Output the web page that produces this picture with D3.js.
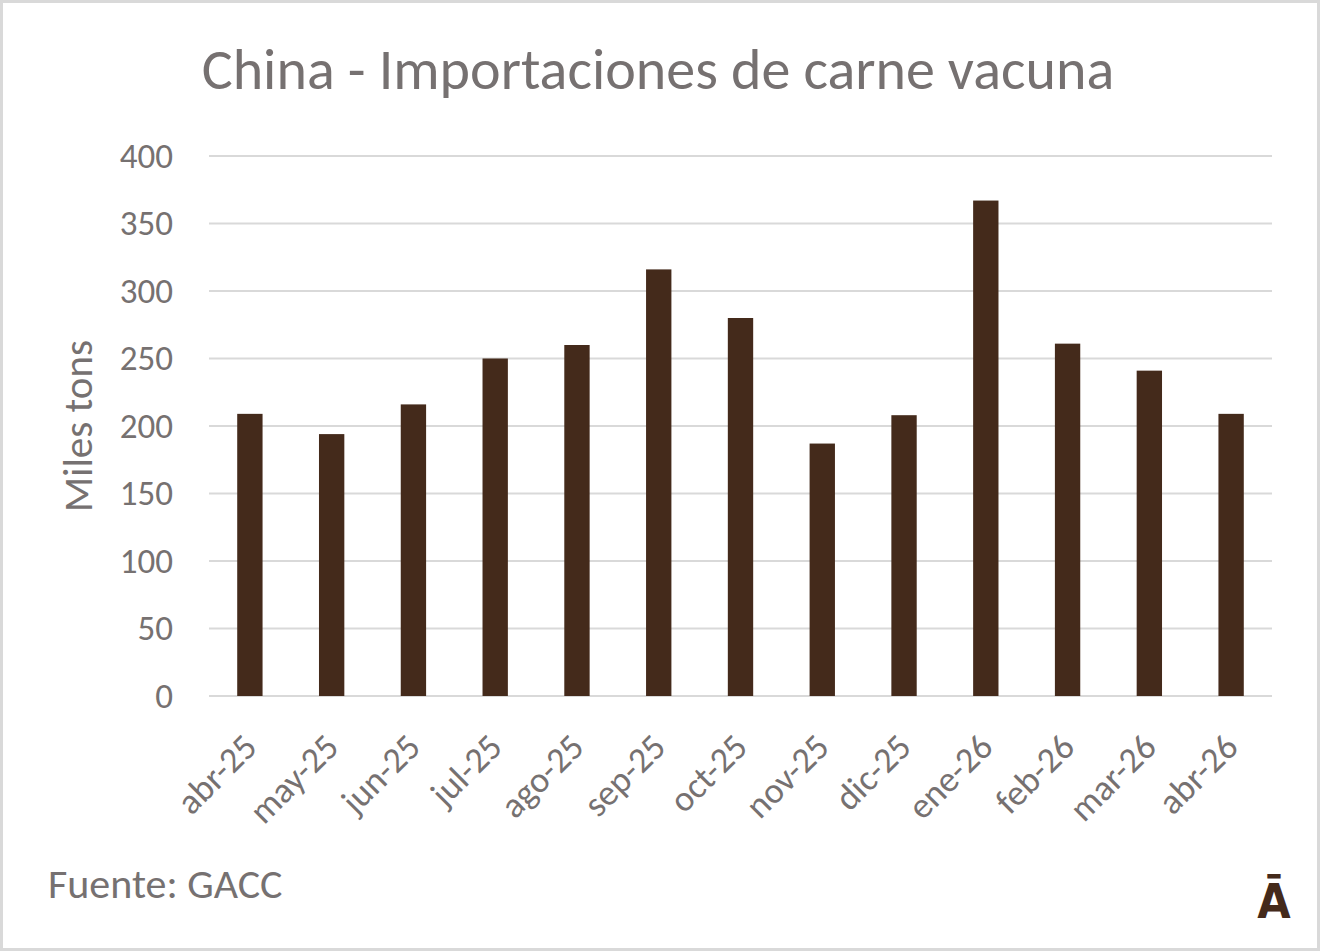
<!DOCTYPE html>
<html>
<head>
<meta charset="utf-8">
<script src="https://cdn.jsdelivr.net/npm/d3@7"></script>
<style>
  html, body { margin: 0; padding: 0; background: #fff; }
  svg text { font-family: Carlito, Lato, "Open Sans", sans-serif; fill: #767171; }
</style>
</head>
<body>
<svg id="chart" width="1320" height="951"></svg>
<script>
const months = ["abr-25", "may-25", "jun-25", "jul-25", "ago-25", "sep-25", "oct-25",
  "nov-25", "dic-25", "ene-26", "feb-26", "mar-26", "abr-26"];
const imports = [209, 194, 216, 250, 260, 316, 280, 187, 208, 367, 261, 241, 209];
const yTicks = [0, 50, 100, 150, 200, 250, 300, 350, 400];

const title = "China - Importaciones de carne vacuna";
const yLabel = "Miles tons";
const source = "Fuente: GACC";

const data = months.map((m, i) => ({ month: m, value: imports[i] }));

const width = 1320, height = 951;
const margin = { top: 156, right: 48, bottom: 255, left: 209 };

const svg = d3.select("#chart");

// outer frame
svg.append("rect")
  .attr("x", 1.5).attr("y", 1.5)
  .attr("width", width - 3).attr("height", height - 3)
  .attr("fill", "#fff").attr("stroke", "#d9d9d9").attr("stroke-width", 3);

const x = d3.scaleBand()
  .domain(months)
  .range([margin.left, width - margin.right])
  .paddingInner(0.69)
  .paddingOuter(0.345);

const y = d3.scaleLinear()
  .domain([0, 400])
  .range([height - margin.bottom, margin.top]);

// gridlines
svg.append("g")
  .selectAll("line")
  .data(yTicks)
  .join("line")
  .attr("x1", margin.left).attr("x2", width - margin.right)
  .attr("y1", d => y(d)).attr("y2", d => y(d))
  .attr("stroke", "#d9d9d9").attr("stroke-width", 2);

// bars
svg.append("g")
  .selectAll("rect")
  .data(data)
  .join("rect")
  .attr("x", d => x(d.month))
  .attr("y", d => y(d.value))
  .attr("width", x.bandwidth())
  .attr("height", d => y(0) - y(d.value))
  .attr("fill", "#442a1b");

// y axis labels
const yAxis = svg.append("g")
  .attr("transform", `translate(${margin.left},0)`)
  .call(d3.axisLeft(y).tickValues(yTicks).tickSize(0).tickPadding(36));
yAxis.select(".domain").remove();
yAxis.selectAll("text")
  .style("font-size", "35px")
  .attr("fill", "#767171");

// x axis labels
const xAxis = svg.append("g")
  .attr("transform", `translate(0,${y(0)})`)
  .call(d3.axisBottom(x).tickSize(0).tickPadding(0));
xAxis.select(".domain").remove();
xAxis.selectAll("text")
  .style("font-size", "36px")
  .attr("fill", "#767171")
  .attr("text-anchor", "end")
  .attr("dy", null)
  .attr("transform", "translate(9,53) rotate(-45)");

// title
svg.append("text")
  .attr("x", 658).attr("y", 89)
  .attr("text-anchor", "middle")
  .style("font-size", "58px")
  .text(title);

// y axis title
svg.append("text")
  .attr("transform", `translate(92,${(y(0) + y(400)) / 2}) rotate(-90)`)
  .attr("text-anchor", "middle")
  .style("font-size", "41px")
  .text(yLabel);

// source
svg.append("text")
  .attr("x", 48).attr("y", 898)
  .style("font-size", "42px")
  .text(source);

// logo
svg.append("text")
  .attr("x", 1274).attr("y", 918)
  .attr("text-anchor", "middle")
  .style("font-family", "'DejaVu Sans Condensed', 'DejaVu Sans', sans-serif")
  .style("font-weight", "bold")
  .style("font-size", "48px")
  .style("fill", "#442a1b")
  .text("Ā");
</script>
</body>
</html>
